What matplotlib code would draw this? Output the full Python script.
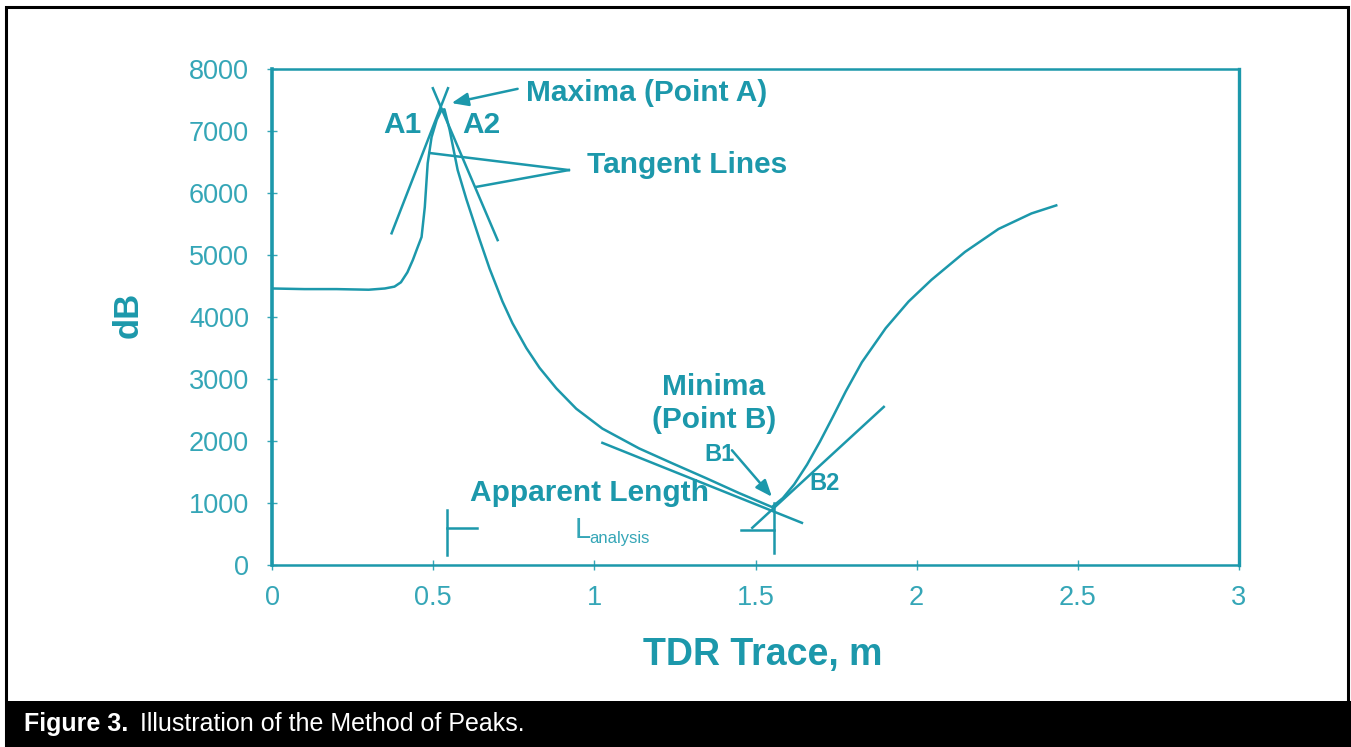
import matplotlib
matplotlib.use("Agg")
import matplotlib.pyplot as plt
from matplotlib.patches import Rectangle
from matplotlib import font_manager

# ---------------- data ----------------
curve_x = [0.00, 0.10, 0.20, 0.30, 0.35, 0.38, 0.40, 0.42, 0.437, 0.45, 0.464,
           0.474, 0.483, 0.495, 0.511, 0.526, 0.535, 0.551, 0.576, 0.603, 0.644,
           0.675, 0.715, 0.746, 0.789, 0.830, 0.882, 0.944, 1.025, 1.139, 1.242,
           1.347, 1.449, 1.551, 1.585, 1.620, 1.660, 1.700, 1.740, 1.780, 1.830,
           1.904, 1.975, 2.046, 2.150, 2.254, 2.356, 2.433]
curve_y = [4460, 4450, 4450, 4440, 4460, 4490, 4560, 4720, 4920, 5100, 5290,
           5770, 6480, 6900, 7180, 7340, 7350, 7020, 6370, 5900, 5250,
           4780, 4250, 3900, 3500, 3180, 2850, 2520, 2200, 1880, 1640,
           1400, 1160, 935, 1080, 1300, 1620, 1990, 2390, 2800, 3270,
           3820, 4250, 4600, 5050, 5420, 5670, 5800]

tanA1_x = [0.371, 0.546]; tanA1_y = [5350, 7690]
tanA2_x = [0.700, 0.499]; tanA2_y = [5240, 7690]
tanB1_x = [1.025, 1.644]; tanB1_y = [1970, 680]
tanB2_x = [1.490, 1.898]; tanB2_y = [600, 2550]

xticks = [0, 0.5, 1, 1.5, 2, 2.5, 3]
xtick_labels = ["0", "0.5", "1", "1.5", "2", "2.5", "3"]
yticks = [0, 1000, 2000, 3000, 4000, 5000, 6000, 7000, 8000]
ytick_labels = ["0", "1000", "2000", "3000", "4000", "5000", "6000", "7000", "8000"]

# ---------------- style ----------------
TEAL = "#1c98ab"
TEAL_L = "#35a6b7"
W, H = 1351, 747

names = {f.name for f in font_manager.fontManager.ttflist}
MAIN = "Liberation Sans" if "Liberation Sans" in names else "DejaVu Sans"
NARROW = "Liberation Sans Narrow" if "Liberation Sans Narrow" in names else MAIN
plt.rcParams["font.family"] = [MAIN, "DejaVu Sans"]

fig = plt.figure(figsize=(W / 100, H / 100), dpi=100)
fig.patch.set_facecolor("white")

def fx(px):
    return px / W

def fy(py):
    return 1 - py / H

ax = fig.add_axes([fx(272), fy(565), fx(1239) - fx(272), fy(69) - fy(565)])
ax.set_xlim(0, 3)
ax.set_ylim(0, 8000)

for side in ["left", "right", "top", "bottom"]:
    ax.spines[side].set_color(TEAL)
ax.spines["left"].set_linewidth(2.6)
ax.spines["right"].set_linewidth(2.4)
ax.spines["top"].set_linewidth(1.8)
ax.spines["bottom"].set_linewidth(1.8)

ax.set_xticks(xticks)
ax.set_xticklabels(xtick_labels)
ax.set_yticks(yticks)
ax.set_yticklabels(ytick_labels)
ax.tick_params(axis="both", direction="inout", length=7, width=1.0,
               colors=TEAL_L, labelcolor=TEAL_L, labelsize=19.5)
ax.tick_params(axis="y", pad=13)
ax.tick_params(axis="x", pad=11)

lw = 1.8
ax.plot(curve_x, curve_y, color=TEAL, lw=lw, solid_joinstyle="round")
ax.plot(tanA1_x, tanA1_y, color=TEAL, lw=lw)
ax.plot(tanA2_x, tanA2_y, color=TEAL, lw=lw)
ax.plot(tanB1_x, tanB1_y, color=TEAL, lw=lw)
ax.plot(tanB2_x, tanB2_y, color=TEAL, lw=lw)

# apparent length brackets
ax.plot([0.542, 0.542], [160, 887], color=TEAL, lw=lw)
ax.plot([0.542, 0.635], [597, 597], color=TEAL, lw=lw)
ax.plot([1.557, 1.557], [190, 1000], color=TEAL, lw=lw)
ax.plot([1.455, 1.557], [565, 565], color=TEAL, lw=lw)

# tangent pointer lines
ax.plot([0.921, 0.489], [6370, 6645], color=TEAL, lw=lw)
ax.plot([0.921, 0.635], [6370, 6100], color=TEAL, lw=lw)

# arrows
arrowprops = dict(arrowstyle="-|>,head_length=1.0,head_width=0.4", color=TEAL,
                  lw=lw, shrinkA=0, shrinkB=0)
ax.annotate("", xy=(0.557, 7450), xytext=(0.762, 7680), arrowprops=arrowprops)
ax.annotate("", xy=(1.551, 1100), xytext=(1.427, 1850), arrowprops=arrowprops)

tkw = dict(color=TEAL, fontweight="bold", fontsize=21.5)
ax.text(0.789, 7613, "Maxima (Point A)", ha="left", va="center", **tkw)
ax.text(0.344, 7100, "A1", ha="left", va="center", **tkw)
ax.text(0.591, 7100, "A2", ha="left", va="center", **tkw)
ax.text(0.978, 6450, "Tangent Lines", ha="left", va="center", **tkw)
ax.text(1.371, 2870, "Minima", ha="center", va="center", **tkw)
ax.text(1.371, 2340, "(Point B)", ha="center", va="center", **tkw)
ax.text(1.341, 1775, "B1", ha="left", va="center", color=TEAL, fontweight="bold", fontsize=17)
ax.text(1.666, 1320, "B2", ha="left", va="center", color=TEAL, fontweight="bold", fontsize=17)
ax.text(0.613, 1160, "Apparent Length", ha="left", va="center", **tkw)
ax.text(0.938, 565, "L", ha="left", va="center", color=TEAL_L, fontsize=21)
ax.text(0.985, 420, "analysis", ha="left", va="center", color=TEAL_L, fontsize=12)

# axis labels
fig.text(fx(128), fy(315), "dB", rotation=90, ha="center", va="center",
         color=TEAL, fontweight="bold", fontsize=25)
fig.text(fx(763), fy(655), "TDR Trace, m", ha="center", va="center",
         color=TEAL, fontweight="bold", fontsize=27)

# frame and caption bar
fig.patches.append(Rectangle((fx(6), fy(747)), fx(1348) - fx(6), fy(7) - fy(747),
                             transform=fig.transFigure, fill=False,
                             edgecolor="black", lw=2.2))
fig.patches.append(Rectangle((fx(5), 0), 1 - fx(5), fy(701),
                             transform=fig.transFigure, facecolor="black",
                             edgecolor="none"))
t1 = fig.text(fx(24), fy(724), "Figure 3.", ha="left", va="center", color="white",
              fontweight="bold", fontsize=18, family=[NARROW, "DejaVu Sans"])
fig.canvas.draw()
bb = t1.get_window_extent()
fig.text((bb.x1 + 12) / W, fy(724), "Illustration of the Method of Peaks.",
         ha="left", va="center", color="white", fontsize=18,
         family=[NARROW, "DejaVu Sans"])

fig.savefig("out.png", dpi=100, facecolor="white")
